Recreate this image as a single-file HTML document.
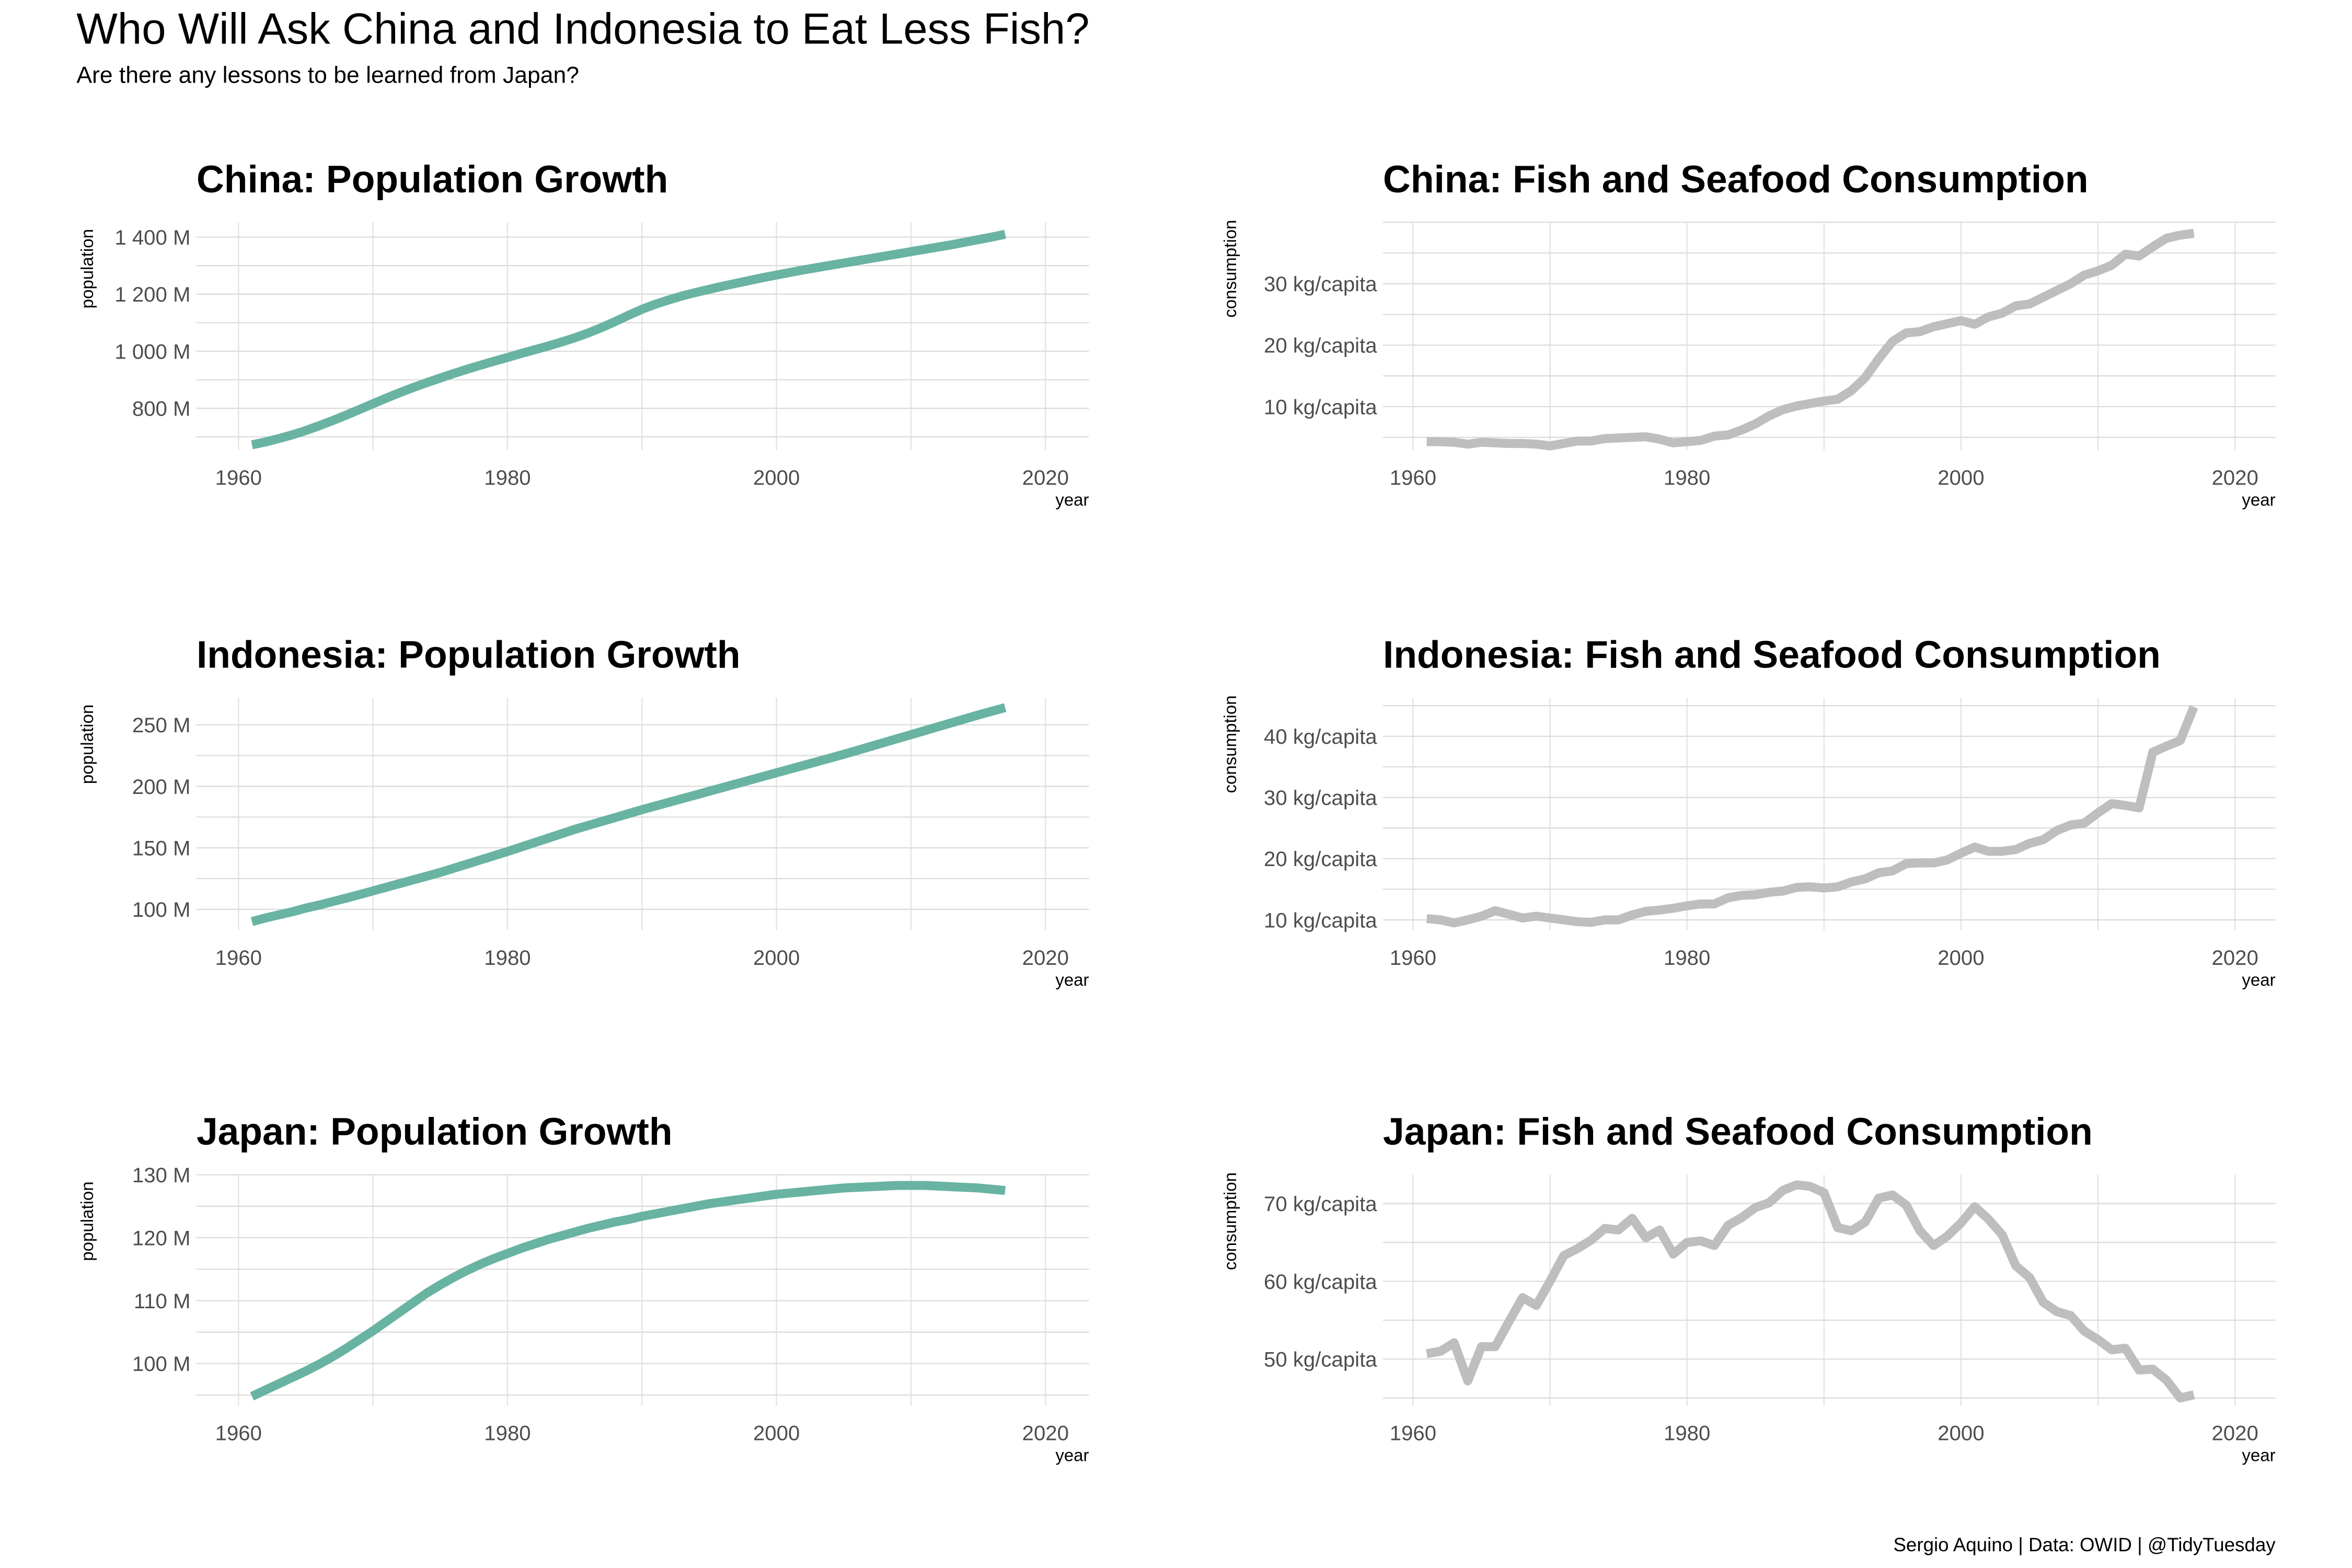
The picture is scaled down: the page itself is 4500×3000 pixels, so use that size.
<!DOCTYPE html>
<html><head><meta charset="utf-8">
<style>
html,body{margin:0;padding:0;background:#fff;}
svg{display:block;font-family:"Liberation Sans",Arial,sans-serif;}
</style></head>
<body>
<svg id="chart" width="4500" height="3000" viewBox="0 0 1568 1045" xmlns="http://www.w3.org/2000/svg">
<rect width="1568" height="1045" fill="#fff"/>
<text x="51" y="29" font-size="29" fill="#000">Who Will Ask China and Indonesia to Eat Less Fish?</text>
<text x="51" y="55" font-size="15.5" fill="#000">Are there any lessons to be learned from Japan?</text>
<text x="1517" y="1034" font-size="12.8" fill="#000" text-anchor="end">Sergio Aquino | Data: OWID | @TidyTuesday</text>
<g id="panels"></g>
</svg>
<script>
const years = [];
for (let y = 1961; y <= 2017; y++) years.push(y);

const chinaPop = [672,682,694,707,722,739,757,776,796,816,836,855,873,890,906,922,937,951,965,978,992,1005,1018,1032,1047,1064,1083,1104,1126,1147,1165,1180,1194,1206,1217,1228,1238,1248,1258,1267,1276,1285,1293,1301,1309,1317,1325,1333,1341,1349,1357,1365,1373,1382,1391,1400,1410];
const chinaFish = [4.3,4.3,4.2,3.9,4.2,4.1,4.0,4.0,3.9,3.6,4.0,4.4,4.4,4.8,4.9,5.0,5.1,4.7,4.1,4.3,4.5,5.2,5.4,6.2,7.2,8.5,9.5,10.1,10.5,10.9,11.2,12.6,14.7,17.8,20.6,22.0,22.2,23.0,23.5,24.0,23.4,24.6,25.2,26.4,26.7,27.8,28.9,30.0,31.4,32.1,33.0,34.8,34.5,36.0,37.4,37.9,38.2];
const indoPop = [90,93,95.5,98,101,103.5,106.3,109.1,112,115,118,121,124,127,130,133.4,136.8,140.2,143.6,147,150.6,154.2,157.8,161.4,165,168.2,171.4,174.6,177.8,181,184,187,190,193,196,199,202,205,208,211,214,217,220,223,226,229.2,232.4,235.6,238.8,242,245.2,248.4,251.6,254.8,258,261,264];
const indoFish = [10.2,10.0,9.5,10.0,10.6,11.5,10.9,10.3,10.6,10.3,10.0,9.7,9.6,10.0,10.0,10.8,11.4,11.6,11.9,12.3,12.6,12.6,13.6,14.0,14.1,14.5,14.7,15.3,15.4,15.2,15.4,16.2,16.7,17.7,18.0,19.2,19.3,19.3,19.8,20.9,21.9,21.2,21.2,21.5,22.5,23.1,24.6,25.5,25.8,27.5,29.0,28.7,28.3,37.4,38.4,39.3,44.8];
const japanPop = [94.8,95.8,96.8,97.8,98.8,99.9,101.1,102.4,103.8,105.2,106.7,108.2,109.7,111.2,112.5,113.7,114.8,115.8,116.7,117.5,118.3,119.0,119.7,120.3,120.9,121.5,122.0,122.5,122.9,123.4,123.8,124.2,124.6,125.0,125.4,125.7,126.0,126.3,126.6,126.9,127.1,127.3,127.5,127.7,127.9,128.0,128.1,128.2,128.3,128.3,128.3,128.2,128.1,128.0,127.9,127.7,127.5];
const japanFish = [50.7,51.0,52.1,47.2,51.6,51.6,54.8,57.9,56.9,60.0,63.3,64.2,65.3,66.8,66.6,68.1,65.6,66.6,63.5,65.0,65.2,64.6,67.2,68.2,69.5,70.1,71.7,72.4,72.2,71.4,66.9,66.5,67.6,70.7,71.1,69.8,66.5,64.6,65.8,67.5,69.6,68.0,66.0,62.0,60.5,57.3,56.1,55.6,53.6,52.5,51.2,51.4,48.6,48.7,47.3,45.0,45.4];

const xTicks = [1960,1980,2000,2020];
const popTicksChina = [800,1000,1200,1400];
const popTicksIndo = [100,150,200,250];
const popTicksJapan = [100,110,120,130];
const fishTicksChina = [10,20,30];
const fishTicksIndo = [10,20,30,40];
const fishTicksJapan = [50,60,70];

const rows = [{top:148,bot:300},{top:465,bot:620},{top:783,bot:937}];
const cols = [{l:131,r:726,x0:159,x1:697},{l:922,r:1517,x0:942,x1:1490}];

const panels = [
 {name:'china-population',title:'China: Population Growth',row:0,col:0,data:chinaPop,ticks:popTicksChina,ymin:653,ymax:1452,fmt:v=>v>=1000?('1 '+String(v).slice(1)+' M'):v+' M',ytitle:'population',color:'#69b3a2'},
 {name:'china-fish',title:'China: Fish and Seafood Consumption',row:0,col:1,data:chinaFish,ticks:fishTicksChina,ymin:2.9,ymax:40,fmt:v=>v+' kg/capita',ytitle:'consumption',color:'#bebebe'},
 {name:'indonesia-population',title:'Indonesia: Population Growth',row:1,col:0,data:indoPop,ticks:popTicksIndo,ymin:83,ymax:272,fmt:v=>v+' M',ytitle:'population',color:'#69b3a2'},
 {name:'indonesia-fish',title:'Indonesia: Fish and Seafood Consumption',row:1,col:1,data:indoFish,ticks:fishTicksIndo,ymin:8.3,ymax:46.3,fmt:v=>v+' kg/capita',ytitle:'consumption',color:'#bebebe'},
 {name:'japan-population',title:'Japan: Population Growth',row:2,col:0,data:japanPop,ticks:popTicksJapan,ymin:93.3,ymax:130,fmt:v=>v+' M',ytitle:'population',color:'#69b3a2'},
 {name:'japan-fish',title:'Japan: Fish and Seafood Consumption',row:2,col:1,data:japanFish,ticks:fishTicksJapan,ymin:44.0,ymax:73.7,fmt:v=>v+' kg/capita',ytitle:'consumption',color:'#bebebe'}
];

const NS='http://www.w3.org/2000/svg';
const root=document.getElementById('panels');
function mk(tag,attrs,parent){const e=document.createElementNS(NS,tag);for(const k in attrs)e.setAttribute(k,attrs[k]);parent.appendChild(e);return e;}

panels.forEach(p=>{
  const R=rows[p.row],C=cols[p.col];
  const g=mk('g',{},root);
  
  
  const xs=yr=>C.x0+(yr-1960)*(C.x1-C.x0)/60;
  const ys=v=>R.bot-(v-p.ymin)/(p.ymax-p.ymin)*(R.bot-R.top);
  for(let yr=1960;yr<=2020;yr+=10){
    const l=mk('line',{x1:xs(yr),x2:xs(yr),y1:R.top,y2:R.bot,stroke:'#e3e3e3','stroke-width':0.8},g);
    
    
  }
  const step=p.ticks[1]-p.ticks[0];
  for(let v=p.ticks[0]-step*2;v<=p.ticks[p.ticks.length-1]+step*2;v+=step/2){
    const y=ys(v); if(y<R.top-0.5||y>R.bot+0.5) continue;
    const l=mk('line',{x1:C.l,x2:C.r,y1:y,y2:y,stroke:'#dcdcdc','stroke-width':0.8},g);
    
    
  }
  p.ticks.forEach(v=>{
    const t=mk('text',{x:C.l-4,y:ys(v)+5,'font-size':14,fill:'#4d4d4d','text-anchor':'end'},g);
    t.textContent=p.fmt(v);
    
    
  });
  xTicks.forEach(yr=>{
    const t=mk('text',{x:xs(yr),y:R.bot+23,'font-size':14,fill:'#4d4d4d','text-anchor':'middle'},g);
    t.textContent=yr;
    
    
  });
  const xt=mk('text',{x:C.r,y:R.bot+37,'font-size':11.5,fill:'#000','text-anchor':'end'},g);
  xt.textContent='year';
  
  
  const yxp=p.col===0?62:824;
  const yt=mk('text',{x:yxp,y:R.top+31,'font-size':11.5,fill:'#000','text-anchor':'middle',transform:`rotate(-90 ${yxp} ${R.top+31})`},g);
  yt.textContent=p.ytitle;
  
  
  const tt=mk('text',{x:C.l,y:R.top-20,'font-size':25.5,'font-weight':'bold',fill:'#000'},g);
  tt.textContent=p.title;
  
  
  const d=p.data.map((v,i)=>(i?'L':'M')+xs(years[i]).toFixed(2)+','+ys(v).toFixed(2)).join(' ');
  const path=mk('path',{d:d,fill:'none',stroke:p.color,'stroke-width':6,'stroke-linejoin':'round'},g);
  
  
});
</script>
</body></html>
